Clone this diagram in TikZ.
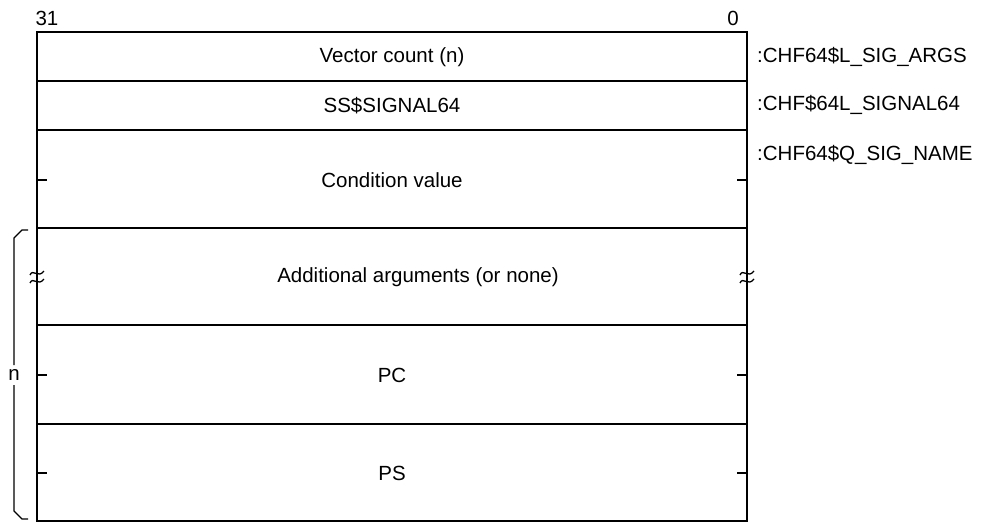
\documentclass[tikz,border=0pt]{standalone}
\usepackage{fontspec}
\setmainfont{Liberation Sans}
\begin{document}
\begin{tikzpicture}[x=1pt,y=-1pt,
  frame/.style={line width=1.4pt},
  rowtext/.style={font=\fontsize{20.5}{24}\selectfont, inner sep=0pt, anchor=center},
  sidetext/.style={font=\fontsize{20.5}{24}\selectfont, inner sep=0pt, anchor=west},
  tick/.style={line width=1.2pt},
  wave/.style={line width=1.3pt}]
\useasboundingbox (0,0) rectangle (987,523);
% frame
\draw[frame] (37,32) rectangle (747,521);
\foreach \yy in {81,130,228,325,424} \draw[frame] (37,\yy) -- (747,\yy);
% bit numbers
\node[rowtext] (b31) at (47,18) {31};
\node[rowtext] (b0) at (733,18) {0};
% row texts
\node[rowtext] (r1) at (392,57) {Vector count (n)};
\node[rowtext] (r2) at (392,106) {SS\$SIGNAL64};
\node[rowtext] (r3) at (392,180) {Condition value};
\node[rowtext] (r4) at (418,277) {Additional arguments (or none)};
\node[rowtext] (r5) at (392,375) {PC};
\node[rowtext] (r6) at (392,473) {PS};
% side labels
\node[sidetext] (s1) at (757,57) {:CHF64\$L\_SIG\_ARGS};
\node[sidetext] (s2) at (757,105) {:CHF\$64L\_SIGNAL64};
\node[sidetext] (s3) at (757,155) {:CHF64\$Q\_SIG\_NAME};
% ticks
\foreach \yy in {180,375,473} {
  \draw[tick] (37,\yy) -- (47,\yy);
  \draw[tick] (737,\yy) -- (747,\yy);
}
% break marks
\foreach \xx in {37,747} {
  \draw[wave] (\xx-7,275) .. controls (\xx-4,268) and (\xx+1,279) .. (\xx+7,271);
  \draw[wave] (\xx-7,283) .. controls (\xx-4,276) and (\xx+1,287) .. (\xx+7,279);
}
% brace
\node[rowtext] (nlab) at (14,375) {n};
\draw[tick] (14,365) -- (14,238) -- (22,230) -- (28,230);
\draw[tick] (14,385) -- (14,511) -- (22,519) -- (28,519);
\end{tikzpicture}
\end{document}
